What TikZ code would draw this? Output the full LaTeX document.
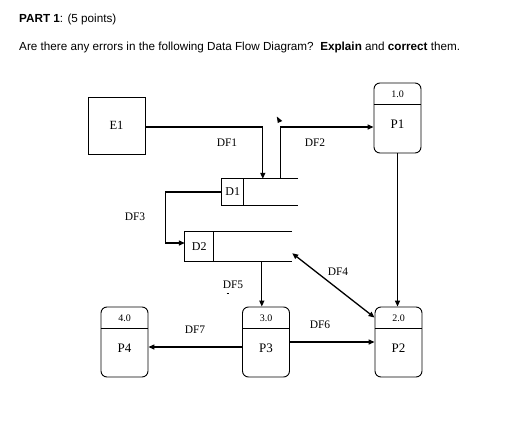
\documentclass[tikz,border=0pt]{standalone}
\usepackage{fontspec}
\setmainfont{Liberation Serif}
\newfontfamily\headfont{Liberation Sans}
\usetikzlibrary{positioning, arrows.meta}

\begin{document}
\begin{tikzpicture}[x=1pt, y=-1pt,
        proc/.style={draw, rounded corners=6pt, line width=0.9pt, minimum width=47pt, minimum height=70pt},
        ent/.style={draw, line width=0.9pt, minimum width=57pt, minimum height=57pt, font=\fontsize{12.5}{13}\selectfont},
        store/.style={minimum height=26pt, inner sep=0pt},
        flow/.style={line width=1.3pt, -{Triangle[length=6pt, width=5pt]}},
        lbl/.style={font=\fontsize{11.5}{12}\selectfont}
    ]
      \useasboundingbox (0,0) rectangle (524,436);
      % heading
      \node[anchor=base west, inner sep=0pt, font=\headfont\fontsize{11.7}{13}\selectfont] (head) at (19,22.7)
           {\textbf{PART 1}: (5 points)};
      \node[anchor=base west, inner sep=0pt, font=\headfont\fontsize{11.7}{13}\selectfont] (task) at (19,50.7)
           {Are there any errors in the following Data Flow Diagram?\ \ \textbf{Explain} and \textbf{correct} them.};
      % external entity
      \node[ent] (e1) at (116.5,125.5) {E1};
      % processes
      \foreach \name/\cx/\cy/\num/\txt in {p1/397.5/118/1.0/P1, p2/398.5/342/2.0/P2, p3/266/342/3.0/P3, p4/124.5/342/4.0/P4}{
        \node[proc] (\name) at (\cx,\cy) {};
        \draw[line width=0.9pt] ([yshift=-22pt]\name.north west) -- ([yshift=-22pt]\name.north east);
        \node[font=\fontsize{10}{11}\selectfont, yshift=-11.5pt] at (\name.north) {\num};
        \node[font=\fontsize{13}{14}\selectfont, yshift=-42pt] at (\name.north) {\txt};
      }
      % data stores
      \node[store, minimum width=76pt] (d1) at (260,192) {};
      \node[store, minimum width=107pt, minimum height=29pt] (d2) at (238.5,246.5) {};
      \draw[line width=0.9pt] (d1.north east) -- (d1.north west) -- (d1.south west) -- (d1.south east);
      \draw[line width=0.9pt] ([xshift=22pt]d1.north west) -- ([xshift=22pt]d1.south west);
      \node[font=\fontsize{12}{13}\selectfont] (d1id) at ([xshift=11pt]d1.west) {D1};
      \draw[line width=0.9pt] (d2.north east) -- (d2.north west) -- (d2.south west) -- (d2.south east);
      \draw[line width=0.9pt] ([xshift=29pt]d2.north west) -- ([xshift=29pt]d2.south west);
      \node[font=\fontsize{12}{13}\selectfont] (d2id) at ([xshift=14.5pt]d2.west) {D2};
      % data flows
      \draw[flow] ([yshift=-1.5pt]e1.east) -| ([xshift=41pt]d1.north west);
      \coordinate (df2bend) at ([xshift=59pt]d1.north west |- 0,127);
      \draw[flow] ([xshift=59pt]d1.north west) -- (df2bend) -- (df2bend -| p1.west);
      \fill (df2bend) ++(-4,-10.5) -- ++(1,6.5) -- ++(4.5,-2) -- cycle;
      \draw[flow] (d1.west) -- ++(-56,0) |- ([yshift=3.5pt]d2.west);
      \draw[flow, {Triangle[length=6pt, width=5pt]}-{Triangle[length=6pt, width=5pt]}] ([yshift=8pt]d2.south east) -- ([yshift=-11pt]p2.north west);
      \draw[flow] ([xshift=77pt]d2.south west) -- ([xshift=77pt]d2.south west |- p3.north);
      \draw[flow] (p1.south) -- (p1.south |- p2.north);
      \draw[flow] (p3.east) -- (p2.west);
      \draw[flow] ([yshift=-5pt]p3.west) -- ([yshift=-5pt]p4.east);
      % flow labels
      \node[lbl] (df1) at (227,143) {DF1};
      \node[lbl] (df2) at (315,143) {DF2};
      \node[lbl] (df3) at (135,217) {DF3};
      \node[lbl] (df4) at (338,272) {DF4};
      \node[lbl] (df5) at (233,285) {DF5};
      \draw[line width=0.6pt] (226.5,293.5) -- (228.5,293.5);
      \node[lbl] (df6) at (320,325) {DF6};
      \node[lbl] (df7) at (195,330) {DF7};
    \end{tikzpicture}
\end{document}
